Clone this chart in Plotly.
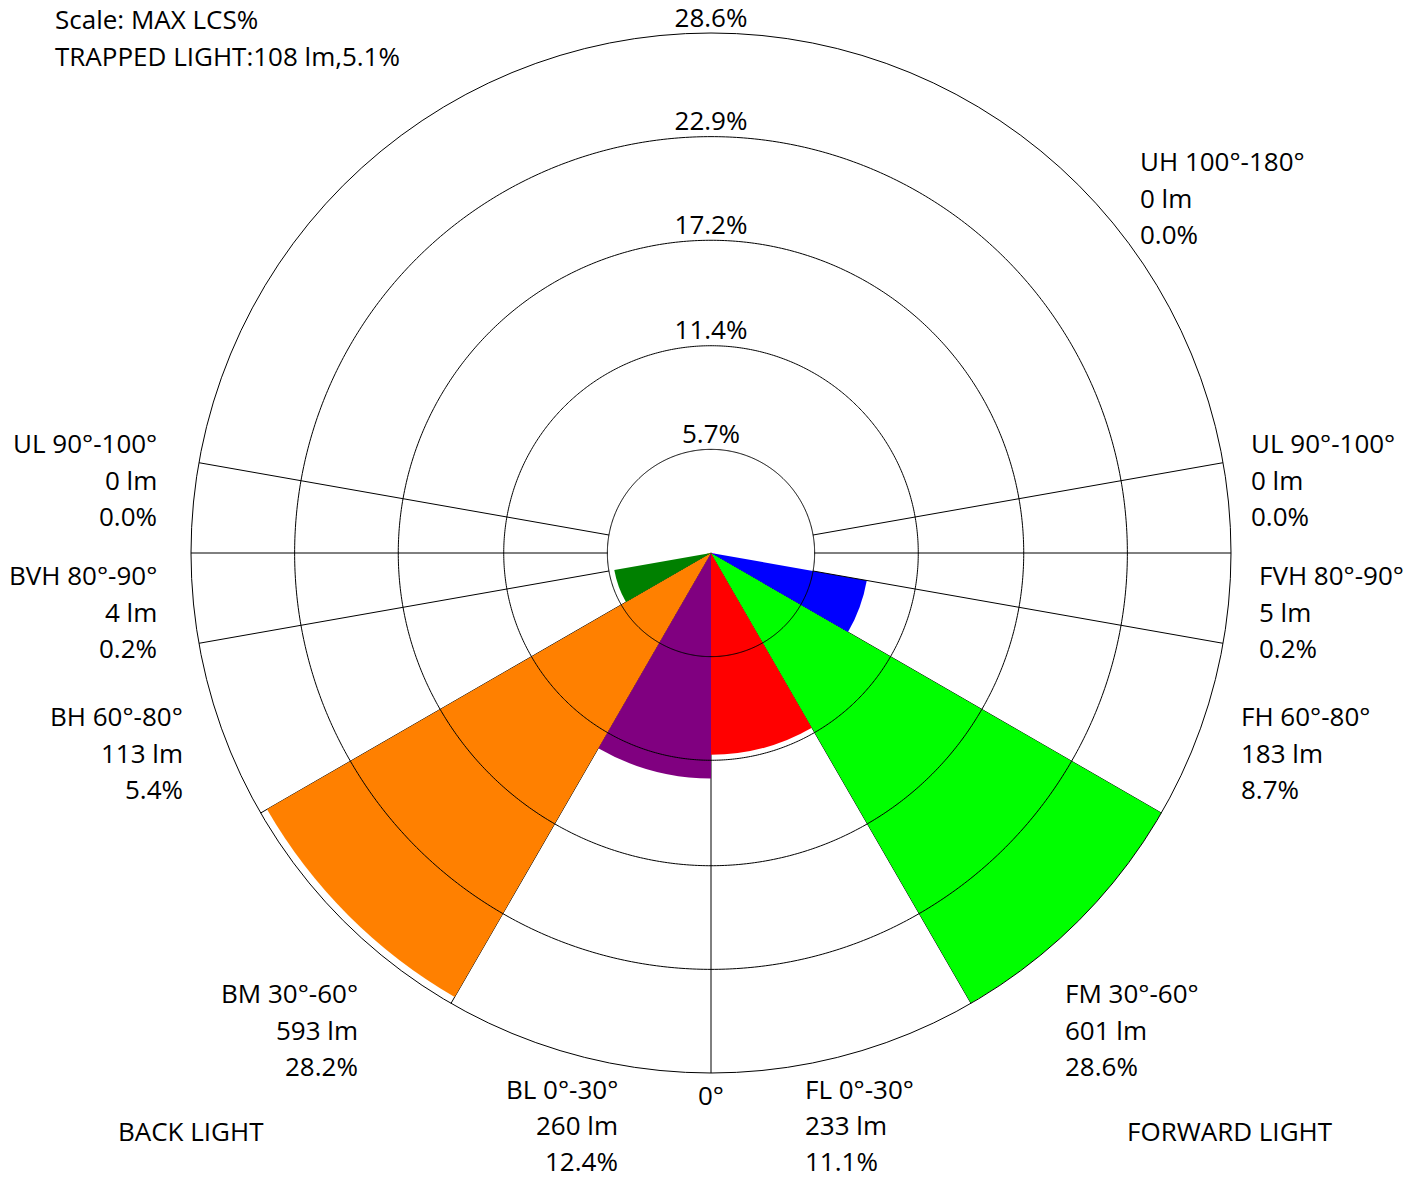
import numpy as np
import plotly.graph_objects as go

# ---------------- data ----------------
fwd_zones = ["FL", "FM", "FH", "FVH", "UL", "UH"]
fwd_start = [0, 30, 60, 80, 90, 100]
fwd_end = [30, 60, 80, 90, 100, 180]
fwd_lumens = [233, 601, 183, 5, 0, 0]
fwd_pct = [11.1, 28.6, 8.7, 0.2, 0.0, 0.0]

back_zones = ["BL", "BM", "BH", "BVH", "UL"]
back_start = [0, 30, 60, 80, 90]
back_end = [30, 60, 80, 90, 100]
back_lumens = [260, 593, 113, 4, 0]
back_pct = [12.4, 28.2, 5.4, 0.2, 0.0]

scale_ticks = [5.7, 11.4, 17.2, 22.9, 28.6]
trapped_lm = 108
trapped_pct = 5.1

fwd_colors = ["#FF0000", "#00FF00", "#0000FF", "#FF00FF", "#FFFF00", "#00FFFF"]
back_colors = ["#800080", "#FF8000", "#008000", "#808000", "#808080"]

W, H = 1423, 1180
FONT = "Open Sans"
FS = 26

fig = go.Figure()

# wedges
for zs, ss, es, ps, cs, sign in [
    (fwd_zones, fwd_start, fwd_end, fwd_pct, fwd_colors, 1),
    (back_zones, back_start, back_end, back_pct, back_colors, -1),
]:
    fig.add_trace(go.Barpolar(
        r=ps,
        theta=[sign * (s + e) / 2 for s, e in zip(ss, es)],
        width=[e - s for s, e in zip(ss, es)],
        marker=dict(color=cs, line=dict(width=0)),
        hoverinfo="skip", showlegend=False,
    ))

# inner grid circles (on top of wedges); outer circle is the angular axis line
circ_theta = np.linspace(0, 360, 721)
for t in scale_ticks[:-1]:
    fig.add_trace(go.Scatterpolar(
        r=[t] * len(circ_theta), theta=circ_theta, mode="lines", cliponaxis=False,
        line=dict(color="black", width=1), hoverinfo="skip", showlegend=False,
    ))

# spokes starting at the inner circle (80, 90, 100 deg on both sides)
for a in [80, 90, 100]:
    for sgn in (1, -1):
        fig.add_trace(go.Scatterpolar(
            r=[scale_ticks[0], scale_ticks[-1]], theta=[sgn * a, sgn * a], mode="lines",
            cliponaxis=False,
            line=dict(color="black", width=1), hoverinfo="skip", showlegend=False,
        ))

# scale labels
fig.add_trace(go.Scatterpolar(
    r=scale_ticks, theta=[180] * len(scale_ticks), mode="text", cliponaxis=False,
    text=[f"{t}%" for t in scale_ticks], textposition="top center",
    textfont=dict(family=FONT, size=FS, color="black"),
    hoverinfo="skip", showlegend=False,
))

cx, cy, R = 711, 553, 520
fig.update_layout(
    width=W, height=H,
    margin=dict(l=0, r=0, t=0, b=0),
    paper_bgcolor="white", plot_bgcolor="white",
    polar=dict(
        domain=dict(x=[(cx - R) / W, (cx + R) / W], y=[1 - (cy + R) / H, 1 - (cy - R) / H]),
        bgcolor="white",
        bargap=0,
        radialaxis=dict(range=[0, scale_ticks[-1]], showgrid=False, showticklabels=False,
                        showline=False, ticks=""),
        angularaxis=dict(rotation=-90, direction="counterclockwise",
                         tickmode="array", tickvals=[0, 30, 60, 300, 330],
                         showticklabels=False, ticks="",
                         showline=True, linecolor="black", linewidth=1,
                         showgrid=True, gridcolor="black", gridwidth=1),
    ),
)

ann = []
def txt(x, y, s, anchor="left"):
    ann.append(dict(x=x / W, y=1 - y / H, xref="paper", yref="paper", text=s,
                    showarrow=False, xanchor=anchor, yanchor="middle",
                    font=dict(family=FONT, size=FS, color="black")))

fwd_pos = [(803, 1089), (1063, 993), (1239, 716), (1257, 575), (1249, 443), (1138, 161)]
back_pos = [(620, 1089), (360, 993), (185, 716), (159, 575), (159, 443)]
for zs, ss, es, ls, ps, pos, anchor in [
    (fwd_zones, fwd_start, fwd_end, fwd_lumens, fwd_pct, fwd_pos, "left"),
    (back_zones, back_start, back_end, back_lumens, back_pct, back_pos, "right"),
]:
    for z, s, e, l, p, (x, y) in zip(zs, ss, es, ls, ps, pos):
        lines = [f"{z} {s}°-{e}°", f"{l} lm", f"{p:.1f}%"]
        ls_ = 36.0 if y > 1050 else 36.7
        for i, line in enumerate(lines):
            txt(x, y + i * ls_, line, anchor)

txt(711, 1095, "0°", "center")
txt(53, 19, "Scale: MAX LCS%")
txt(53, 56, f"TRAPPED LIGHT:{trapped_lm} lm,{trapped_pct}%")
txt(191, 1131, "BACK LIGHT", "center")
txt(1230, 1131, "FORWARD LIGHT", "center")
fig.update_layout(annotations=ann)

fig.write_html("out.html", post_script="document.body.style.margin='0';",
               config={"displayModeBar": False})
